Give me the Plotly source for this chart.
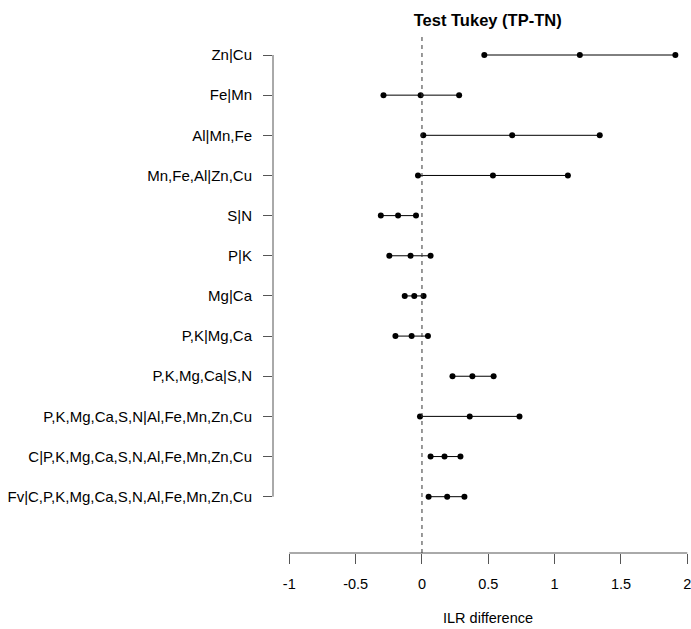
import plotly.graph_objects as go

categories = [
    "Zn|Cu",
    "Fe|Mn",
    "Al|Mn,Fe",
    "Mn,Fe,Al|Zn,Cu",
    "S|N",
    "P|K",
    "Mg|Ca",
    "P,K|Mg,Ca",
    "P,K,Mg,Ca|S,N",
    "P,K,Mg,Ca,S,N|Al,Fe,Mn,Zn,Cu",
    "C|P,K,Mg,Ca,S,N,Al,Fe,Mn,Zn,Cu",
    "Fv|C,P,K,Mg,Ca,S,N,Al,Fe,Mn,Zn,Cu",
]
lower = [0.47, -0.29, 0.01, -0.03, -0.31, -0.246, -0.13, -0.20, 0.23, -0.015, 0.065, 0.05]
diff = [1.19, -0.01, 0.68, 0.535, -0.18, -0.086, -0.058, -0.078, 0.38, 0.36, 0.17, 0.19]
upper = [1.91, 0.28, 1.34, 1.10, -0.045, 0.065, 0.012, 0.045, 0.54, 0.735, 0.29, 0.32]
x_ticks = [-1, -0.5, 0, 0.5, 1, 1.5, 2]
x_tick_labels = ["-1", "-0.5", "0", "0.5", "1", "1.5", "2"]

n = len(categories)
ypos = [n - i for i in range(n)]

FONT = "Liberation Sans, Arial, sans-serif"
AX = "#555555"

fig = go.Figure()
for i in range(n):
    fig.add_trace(go.Scatter(
        x=[lower[i], diff[i], upper[i]],
        y=[ypos[i]] * 3,
        mode="lines+markers",
        line=dict(color="black", width=1),
        marker=dict(color="black", size=6),
        showlegend=False,
        hoverinfo="x",
    ))

W, H = 691, 629
ml, mr, mt, mb = 273, 0, 36, 76
pw = W - ml - mr
ph = H - mt - mb
pxu = 398 / 3.0
x0 = -1 - (289.3 - ml) / pxu
x1 = x0 + pw / pxu
pyu = (496.7 - 55) / 11.0
y_lo = 1 - (553 - 496.7) / pyu
y_hi = n + (55 - mt) / pyu

fig.update_layout(
    width=W, height=H,
    margin=dict(l=ml, r=mr, t=mt, b=mb),
    paper_bgcolor="white", plot_bgcolor="white",
    font=dict(family=FONT, size=15, color="black"),
    title=dict(text="<b>Test Tukey (TP-TN)</b>", x=487.7 / W, xref="container",
               xanchor="center", y=1 - 20 / H, yref="container", yanchor="middle",
               font=dict(family=FONT, size=16.5, color="black")),
    xaxis=dict(range=[x0, x1], tickvals=x_ticks, ticktext=x_tick_labels,
               ticks="outside", ticklen=10, tickcolor=AX, tickwidth=1,
               showgrid=False, zeroline=False, showline=False,
               ticklabeloverflow="allow",
               ticklabelstandoff=8, tickfont=dict(size=14.5)),
    yaxis=dict(range=[y_lo, y_hi], tickvals=ypos, ticktext=categories,
               ticks="outside", ticklen=9, tickcolor=AX, tickwidth=1,
               showgrid=False, zeroline=False, showline=False,
               ticklabelstandoff=8, tickfont=dict(size=15)),
    shapes=[
        dict(type="line", xref="x", yref="paper", x0=x_ticks[0], x1=x_ticks[-1], y0=0, y1=0,
             line=dict(color=AX, width=1)),
        dict(type="line", xref="paper", yref="y", x0=0, x1=0, y0=ypos[-1], y1=ypos[0],
             line=dict(color=AX, width=1)),
        dict(type="line", xref="x", yref="paper", x0=0, x1=0, y0=0, y1=1,
             line=dict(color="#333333", width=1, dash="4px,4px")),
    ],
    annotations=[
        dict(text="ILR difference", xref="paper", yref="paper",
             x=(487.7 - ml) / pw, y=(553 - 618) / ph, xanchor="center", yanchor="middle",
             showarrow=False, font=dict(family=FONT, size=14.5, color="black")),
    ],
)

fig.write_html("out.html", config={"displayModeBar": False},
               post_script="document.body.style.margin='0';document.body.style.overflow='hidden';")
